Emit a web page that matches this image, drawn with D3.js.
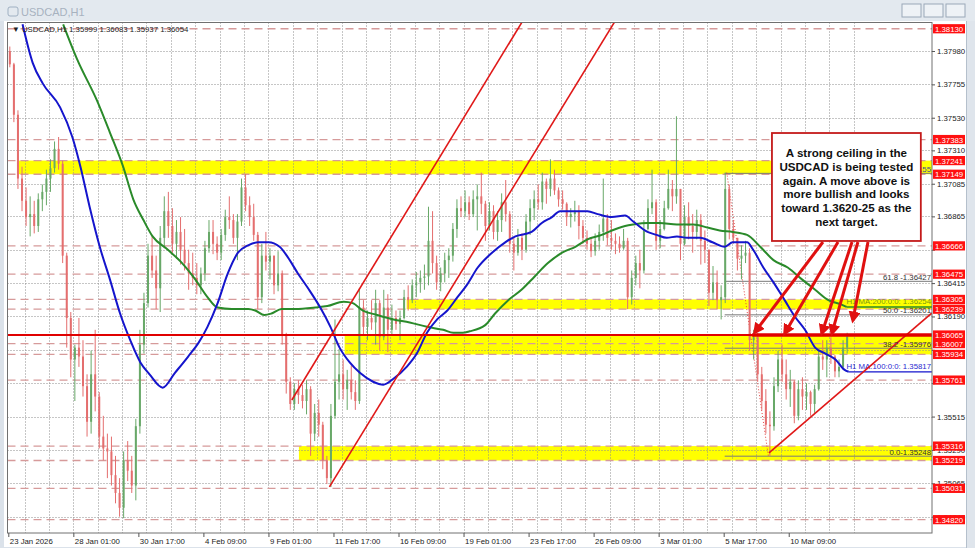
<!DOCTYPE html>
<html><head><meta charset="utf-8">
<script src="https://cdn.jsdelivr.net/npm/d3@7"></script>
<style>
body{margin:0;background:#dbe2ea;overflow:hidden}
svg{display:block}
text{font-family:"Liberation Sans",Arial,sans-serif}
</style></head>
<body><svg id="c" width="975" height="548"></svg>
<script>
// ---------- DATA ----------
const symbol = "USDCAD,H1";
const lastBar = [1.35999, 1.36083, 1.35937, 1.36054]; // O H L C of last hourly bar
const barsPerCandle = 4;
const firstOpen = 1.3798;
const candleHigh = [1.3801,1.3790,1.3758,1.3720,1.3706,1.3700,1.3697,1.3702,1.3708,1.3718,1.3725,1.3737,1.3740,1.3724,1.3662,1.3622,1.3600,1.3618,1.3603,1.3580,
1.3596,1.3610,1.3568,1.3552,1.3540,1.3538,1.3525,1.3510,1.3528,1.3535,1.3525,1.3550,1.3610,1.3635,1.3668,1.3673,1.3660,1.3680,1.3700,1.3703,
1.3692,1.3684,1.3686,1.3678,1.3664,1.3662,1.3655,1.3652,1.3670,1.3684,1.3684,1.3673,1.3678,1.3691,1.3700,1.3688,1.3688,1.3712,1.3715,1.3700,
1.3695,1.3676,1.3668,1.3676,1.3665,1.3660,1.3663,1.3650,1.3608,1.3578,1.3574,1.3576,1.3573,1.3576,1.3572,1.3560,1.3563,1.3548,1.3525,1.3560,
1.3617,1.3597,1.3590,1.3583,1.3586,1.3576,1.3638,1.3630,1.3623,1.3630,1.3637,1.3630,1.3637,1.3634,1.3627,1.3623,1.3623,1.3637,1.3640,1.3644,
1.3649,1.3650,1.3654,1.3693,1.3690,1.3660,1.3652,1.3662,1.3665,1.3682,1.3698,1.3700,1.3704,1.3700,1.3704,1.3708,1.3716,1.3697,1.3696,1.3694,
1.3690,1.3702,1.3711,1.3690,1.3672,1.3678,1.3675,1.3688,1.3698,1.3704,1.3708,1.3716,1.3712,1.3725,1.3718,1.3706,1.3704,1.3696,1.3692,1.3697,
1.3694,1.3684,1.3677,1.3672,1.3675,1.3681,1.3712,1.3688,1.3684,1.3675,1.3673,1.3678,1.3672,1.3650,1.3660,1.3664,1.3684,1.3698,1.3718,1.3698,
1.3684,1.3697,1.3718,1.3711,1.3754,1.3705,1.3694,1.3696,1.3688,1.3691,1.3688,1.3677,1.3664,1.3653,1.3650,1.3640,1.3716,1.3708,1.3684,1.3672,
1.3667,1.3670,1.3665,1.3610,1.3608,1.3585,1.3570,1.3555,1.3578,1.3596,1.3600,1.3590,1.3583,1.3576,1.3576,1.3578,1.3574,1.3569,1.3573,1.3596,
1.3603,1.3603,1.3605,1.3593,1.3590,1.3603,1.3608];
const candleLow = [1.3787,1.3750,1.3705,1.3690,1.3680,1.3673,1.3675,1.3676,1.3690,1.3694,1.3703,1.3716,1.3718,1.3655,1.3598,1.3578,1.3562,1.3585,1.3565,1.3538,
1.3540,1.3555,1.3530,1.3522,1.3510,1.3505,1.3493,1.3484,1.3483,1.3508,1.3500,1.3495,1.3540,1.3594,1.3625,1.3645,1.3624,1.3622,1.3665,1.3672,
1.3662,1.3658,1.3654,1.3650,1.3637,1.3640,1.3634,1.3634,1.3643,1.3662,1.3661,1.3657,1.3657,1.3670,1.3678,1.3668,1.3657,1.3680,1.3690,1.3680,
1.3670,1.3624,1.3628,1.3650,1.3644,1.3634,1.3636,1.3600,1.3567,1.3556,1.3556,1.3560,1.3557,1.3553,1.3525,1.3535,1.3538,1.3516,1.3506,1.3504,
1.3550,1.3563,1.3563,1.3556,1.3563,1.3556,1.3560,1.3607,1.3603,1.3610,1.3600,1.3596,1.3603,1.3595,1.3606,1.3610,1.3603,1.3617,1.3623,1.3628,
1.3632,1.3635,1.3637,1.3640,1.3648,1.3637,1.3636,1.3642,1.3645,1.3656,1.3672,1.3686,1.3686,1.3684,1.3686,1.3677,1.3688,1.3670,1.3677,1.3671,
1.3670,1.3676,1.3683,1.3662,1.3650,1.3660,1.3657,1.3662,1.3674,1.3684,1.3691,1.3691,1.3695,1.3700,1.3701,1.3693,1.3691,1.3680,1.3679,1.3683,
1.3671,1.3668,1.3664,1.3659,1.3660,1.3664,1.3670,1.3667,1.3664,1.3661,1.3662,1.3664,1.3624,1.3627,1.3640,1.3638,1.3648,1.3677,1.3688,1.3664,
1.3665,1.3677,1.3691,1.3690,1.3695,1.3657,1.3667,1.3671,1.3662,1.3671,1.3654,1.3655,1.3626,1.3630,1.3624,1.3617,1.3628,1.3671,1.3668,1.3650,
1.3644,1.3655,1.3596,1.3590,1.3575,1.3556,1.3540,1.3525,1.3542,1.3568,1.3575,1.3563,1.3558,1.3547,1.3549,1.3556,1.3556,1.3552,1.3554,1.3569,
1.3583,1.3578,1.3587,1.3578,1.3578,1.3583,1.3594];
const candleClose = [1.3789,1.3755,1.3712,1.3697,1.3686,1.3688,1.3680,1.3698,1.3703,1.3712,1.3719,1.3732,1.3722,1.3660,1.3618,1.3590,1.3598,1.3592,1.3572,1.3548,
1.3580,1.3565,1.3538,1.3530,1.3528,1.3512,1.3500,1.3490,1.3522,1.3515,1.3505,1.3545,1.3600,1.3628,1.3660,1.3650,1.3638,1.3672,1.3690,1.3680,
1.3668,1.3676,1.3664,1.3655,1.3648,1.3645,1.3640,1.3648,1.3665,1.3676,1.3668,1.3662,1.3674,1.3686,1.3684,1.3672,1.3683,1.3706,1.3694,1.3686,
1.3674,1.3632,1.3660,1.3656,1.3660,1.3640,1.3648,1.3606,1.3575,1.3560,1.3570,1.3566,1.3562,1.3570,1.3540,1.3554,1.3546,1.3522,1.3510,1.3552,
1.3575,1.3580,1.3570,1.3576,1.3568,1.3562,1.3625,1.3612,1.3618,1.3615,1.3628,1.3605,1.3625,1.3610,1.3618,1.3614,1.3618,1.3632,1.3630,1.3640,
1.3642,1.3645,1.3646,1.3670,1.3655,1.3642,1.3648,1.3657,1.3660,1.3678,1.3692,1.3690,1.3696,1.3688,1.3698,1.3700,1.3695,1.3680,1.3690,1.3676,
1.3684,1.3696,1.3688,1.3668,1.3662,1.3672,1.3664,1.3683,1.3692,1.3698,1.3696,1.3710,1.3705,1.3712,1.3704,1.3698,1.3695,1.3686,1.3688,1.3690,
1.3680,1.3672,1.3668,1.3663,1.3670,1.3676,1.3685,1.3672,1.3670,1.3668,1.3665,1.3670,1.3632,1.3645,1.3655,1.3650,1.3678,1.3692,1.3696,1.3670,
1.3678,1.3692,1.3705,1.3700,1.3705,1.3668,1.3686,1.3680,1.3676,1.3684,1.3670,1.3664,1.3635,1.3642,1.3630,1.3632,1.3705,1.3678,1.3672,1.3658,
1.3660,1.3662,1.3603,1.3605,1.3580,1.3562,1.3546,1.3545,1.3572,1.3590,1.3580,1.3570,1.3575,1.3552,1.3570,1.3565,1.3568,1.3560,1.3570,1.3592,
1.3590,1.3598,1.3592,1.3582,1.3585,1.3598,1.36054];

// moving averages (bar index, value)
const ma100Bar = [14,24,34,51,63,71,80,90,100,110,120,130,139,152,164,177,187,196,206,216,226,236,246,256,267,275,285,295,307,317,326,336,346,359,369,379,392,402,412,422,432,442,451,462,476,489,499,515,525,535,543,555,570,580,594,607,615,629,638,648,658,668,681,693,705,713,727,733,743,753,764,774,784,794,804,814,823,827];
const ma100Val = [1.3816,1.3790,1.3776,1.3760,1.3740,1.3720,1.3693,1.3666,1.3644,1.3621,1.3603,1.3588,1.3580,1.3571,1.3581,1.3592,1.3601,1.3612,1.3628,1.3648,1.3662,1.3667,1.3669,1.3669,1.3666,1.3659,1.3648,1.3638,1.3625,1.3612,1.3598,1.3588,1.3581,1.3575,1.3573,1.3577,1.3585,1.3594,1.3608,1.3617,1.3623,1.3632,1.3640,1.3652,1.3662,1.3669,1.3673,1.3676,1.3682,1.3686,1.3690,1.3690,1.3690,1.3688,1.3686,1.3687,1.3683,1.3676,1.3674,1.3672,1.3673,1.3672,1.3672,1.3669,1.3666,1.3669,1.3669,1.3664,1.3652,1.3642,1.3630,1.3619,1.3610,1.3598,1.3594,1.3590,1.3583,1.35817];
const ma200Bar = [54,68,87,100,113,123,133,142,157,171,184,196,206,220,236,243,252,259,269,282,302,314,330,339,349,363,379,395,412,428,438,447,454,469,479,492,505,518,531,545,558,570,584,594,607,615,629,641,658,674,688,700,713,727,740,753,767,781,794,807,820,825];
const ma200Val = [1.3816,1.3792,1.3765,1.3743,1.3720,1.3698,1.3684,1.3673,1.3664,1.3655,1.3644,1.3632,1.3625,1.3624,1.3624,1.3623,1.3620,1.3621,1.3624,1.3624,1.3625,1.3626,1.3629,1.3628,1.3623,1.3620,1.3617,1.3615,1.3612,1.3610,1.3608,1.3608,1.3609,1.3613,1.3621,1.3630,1.3637,1.3646,1.3655,1.3662,1.3666,1.3671,1.3674,1.3677,1.3680,1.3681,1.3682,1.3682,1.3681,1.3681,1.3679,1.3677,1.3676,1.3674,1.3666,1.3657,1.3652,1.3644,1.3637,1.3630,1.3627,1.36254];
const ma100Label = "H1 MA:100:0:0: 1.35817";
const ma200Label = "H1 MA:200:0:0: 1.36254";

// axes
const yTicks = [1.37980,1.37755,1.37530,1.37310,1.37085,1.36865,1.36640,1.36415,1.36190,1.35965,1.35740,1.35515,1.35290,1.35065,1.34840];
const yTicksHidden = [1.36640,1.35965,1.35740]; // fully covered by price labels in the picture
const levelLines = [1.38130,1.37383,1.37241,1.37149,1.36666,1.36475,1.36305,1.36239,1.36065,1.36007,1.35934,1.35761,1.35316,1.35219,1.35031,1.34820];
const timeLabels = ["23 Jan 2026","28 Jan 01:00","30 Jan 17:00","4 Feb 09:00","9 Feb 01:00","11 Feb 17:00","16 Feb 09:00","19 Feb 01:00","23 Feb 17:00","26 Feb 09:00","3 Mar 01:00","5 Mar 17:00","10 Mar 09:00"];
const timeLabelBars = [0,64,128,192,256,320,384,448,512,576,640,704,768];
const gridFirstBar = 16, gridStepBars = 24, gridLastBar = 832;

// drawn objects
const zoneTop = [1.37241,1.36305,1.36065,1.35316];
const zoneBottom = [1.37149,1.36239,1.35934,1.35219];
const zoneFromBar = [10,392,331,286];
const ceilingLevel = 1.36065;
const ceilingThickFromBar = 732;
const trendFrom = [[279,1.35627],[316,1.35041],[748.6,1.3527]];
const trendThrough = [[506,1.3818],[597,1.3818],[909,1.36214]];
const fibLevels = ["100.0","61.8 ","50.0 ","38.2 ","0.0"];
const fibValues = [1.37155,1.36427,1.36201,1.35976,1.35248];
const fibFromBar = 705;
const fibDiag = [[707,1.3716],[748,1.35248]];
const arrowFrom = [[801.7,1.36692],[816.5,1.36692],[830.3,1.36692],[836.1,1.36692],[846,1.36692]];
const arrowTo = [[734.8,1.36085],[764.3,1.36079],[800.7,1.36079],[810.6,1.36079],[831.2,1.36166]];
const noteBox = {fromBar:751.5, toBar:898, top:1.37427, bottom:1.36699};
const noteLines = ["A strong ceiling in the","USDCAD is being tested","again. A move above is","more bullish and looks","toward 1.3620-25 as the","next target."];

// ---------- DRAWING ----------
const svg = d3.select("#c");
const P = {l:7.5, r:932, t:22.5, b:533};
const x = d3.scaleLinear().domain([0,909]).range([8.3,932]);
const y = d3.scaleLinear().domain([1.3473,1.381755]).range([533,22]);
const xEnd = 909;

// window chrome
svg.append("rect").attr("width",975).attr("height",548).attr("fill","#dbe2ea");
svg.append("rect").attr("x",0).attr("y",0).attr("width",975).attr("height",21).attr("fill","#e3e9ef");
svg.append("rect").attr("x",8).attr("y",7).attr("width",10).attr("height",9).attr("fill","none").attr("stroke","#9fb0c2").attr("rx",2);
svg.append("text").attr("x",21).attr("y",16).attr("font-size",11).attr("fill","#a7b2bf").text(symbol);
[902,924,946].forEach(bx=>{
  svg.append("rect").attr("x",bx).attr("y",4).attr("width",19).attr("height",13).attr("fill","#eef2f6").attr("stroke","#9aa8b8");
});
svg.append("rect").attr("x",4).attr("y",21).attr("width",962).attr("height",526).attr("fill","#ffffff");
svg.append("rect").attr("x",966).attr("y",21).attr("width",9).attr("height",527).attr("fill","#dfe5ec");
svg.append("line").attr("x1",966.5).attr("x2",966.5).attr("y1",21).attr("y2",548).attr("stroke","#b5c0cc");

const defs = svg.append("defs");
defs.append("clipPath").attr("id","pc").append("rect")
  .attr("x",P.l).attr("y",P.t).attr("width",P.r-P.l).attr("height",P.b-P.t);
const g = svg.append("g").attr("clip-path","url(#pc)");

// yellow zones
g.selectAll("rect.zone").data(zoneTop).join("rect")
  .attr("x",(d,i)=>x(zoneFromBar[i])).attr("width",(d,i)=>x(xEnd)-x(zoneFromBar[i]))
  .attr("y",d=>y(d)).attr("height",(d,i)=>y(zoneBottom[i])-y(d)).attr("fill","#ffff00");

// grid
g.selectAll("line.vg").data(d3.range(gridFirstBar,gridLastBar+1,gridStepBars)).join("line")
  .attr("x1",d=>Math.round(x(d))+0.5).attr("x2",d=>Math.round(x(d))+0.5).attr("y1",P.t).attr("y2",P.b)
  .attr("stroke","#8c8c8c").attr("stroke-dasharray","1,2");
g.selectAll("line.hg").data(yTicks).join("line")
  .attr("x1",P.l).attr("x2",P.r).attr("y1",d=>Math.round(y(d))+0.5).attr("y2",d=>Math.round(y(d))+0.5)
  .attr("stroke","#8c8c8c").attr("stroke-dasharray","1,2");

// dashed level lines
g.selectAll("line.lv").data(levelLines).join("line")
  .attr("x1",P.l).attr("x2",P.r).attr("y1",d=>y(d)).attr("y2",d=>y(d))
  .attr("stroke","#d69a9a").attr("stroke-width",1.3).attr("stroke-dasharray","8,5");

// fib lines
g.selectAll("line.fib").data(fibValues).join("line")
  .attr("x1",x(fibFromBar)).attr("x2",x(xEnd)).attr("y1",d=>y(d)).attr("y2",d=>y(d))
  .attr("stroke","#7a7a7a").attr("stroke-width",1);
g.append("line").attr("x1",x(fibDiag[0][0])).attr("y1",y(fibDiag[0][1])).attr("x2",x(fibDiag[1][0])).attr("y2",y(fibDiag[1][1]))
  .attr("stroke","#e04040").attr("stroke-dasharray","1,2");

// candles
const candles = candleClose.map((c,k)=>{
  const o = k===0 ? firstOpen : candleClose[k-1];
  return {k,o,c,h:Math.max(candleHigh[k],o,c),l:Math.min(candleLow[k],o,c)};
});
const cx = d=>x(d.k*barsPerCandle+1.5);
const col = d=> d.c>=d.o ? "#68a868" : "#e46e6e";
g.selectAll("line.wick").data(candles).join("line")
  .attr("x1",cx).attr("x2",cx).attr("y1",d=>y(d.h)).attr("y2",d=>y(d.l))
  .attr("stroke",col).attr("stroke-width",1);
g.selectAll("rect.body").data(candles).join("rect")
  .attr("x",d=>cx(d)-1).attr("width",2)
  .attr("y",d=>y(Math.max(d.o,d.c))).attr("height",d=>Math.max(1,Math.abs(y(d.o)-y(d.c))))
  .attr("fill",col);

// moving averages
const maLine = d3.line().x(d=>x(d[0])).y(d=>y(d[1])).curve(d3.curveMonotoneX);
g.append("path").attr("d",maLine(ma200Bar.map((b,i)=>[b,ma200Val[i]]))).attr("fill","none").attr("stroke","#2a8a2a").attr("stroke-width",2);
g.append("path").attr("d",maLine(ma100Bar.map((b,i)=>[b,ma100Val[i]]))).attr("fill","none").attr("stroke","#1515cc").attr("stroke-width",2);
const ma200Last = ma200Val[ma200Val.length-1], ma100Last = ma100Val[ma100Val.length-1];
g.append("line").attr("x1",x(ma200Bar[ma200Bar.length-1])).attr("x2",x(xEnd)).attr("y1",y(ma200Last)).attr("y2",y(ma200Last)).attr("stroke","#2a8a2a").attr("stroke-width",1.5);
g.append("line").attr("x1",x(ma100Bar[ma100Bar.length-1])).attr("x2",x(xEnd)).attr("y1",y(ma100Last)).attr("y2",y(ma100Last)).attr("stroke","#1515cc").attr("stroke-width",1.2);
g.append("text").attr("x",x(xEnd)-1).attr("y",y(ma200Last)-2.5).attr("text-anchor","end").attr("font-size",7.8).attr("fill","#7a9a10").text(ma200Label);
g.append("text").attr("x",x(xEnd)-1).attr("y",y(ma100Last)-2.5).attr("text-anchor","end").attr("font-size",7.8).attr("fill","#2a2ad0").text(ma100Label);

// trend lines (rays)
trendFrom.forEach((p,i)=>{
  const q = trendThrough[i];
  const s = (q[1]-p[1])/(q[0]-p[0]);
  const endVal = p[1]+s*(xEnd-p[0]);
  g.append("line").attr("x1",x(p[0])).attr("y1",y(p[1])).attr("x2",x(xEnd)).attr("y2",y(endVal))
    .attr("stroke","#e01818").attr("stroke-width",1.6);
});

// ceiling
g.append("line").attr("x1",P.l).attr("x2",P.r).attr("y1",y(ceilingLevel)).attr("y2",y(ceilingLevel)).attr("stroke","#e00000").attr("stroke-width",2);
g.append("line").attr("x1",x(ceilingThickFromBar)).attr("x2",P.r).attr("y1",y(ceilingLevel)).attr("y2",y(ceilingLevel)).attr("stroke","#e00000").attr("stroke-width",3.5);

// fib labels (the top one is mostly hidden behind the note box)
const bx0 = x(noteBox.fromBar), bx1 = x(noteBox.toBar), by0 = y(noteBox.top), by1 = y(noteBox.bottom);
defs.append("clipPath").attr("id","fibclip").append("rect")
  .attr("x",bx1).attr("y",P.t).attr("width",P.r-bx1).attr("height",P.b-P.t);
g.selectAll("text.fibl").data(fibValues).join("text")
  .attr("clip-path",(d,i)=> i===0 ? "url(#fibclip)" : null)
  .attr("x",x(xEnd)-1).attr("y",d=>y(d)-1.5).attr("text-anchor","end").attr("font-size",7.8)
  .attr("fill",(d,i)=> i===0 ? "#3a4a9a" : "#333")
  .text((d,i)=>fibLevels[i]+"-"+d.toFixed(5));

// arrows
defs.append("marker").attr("id","ah").attr("viewBox","0 0 10 10").attr("refX",7).attr("refY",5)
  .attr("markerWidth",4).attr("markerHeight",4).attr("orient","auto")
  .append("path").attr("d","M0,0L10,5L0,10z").attr("fill","#e01010");
g.selectAll("line.arrow").data(arrowFrom).join("line")
  .attr("x1",d=>x(d[0])).attr("y1",d=>y(d[1]))
  .attr("x2",(d,i)=>x(arrowTo[i][0])).attr("y2",(d,i)=>y(arrowTo[i][1]))
  .attr("stroke","#e01010").attr("stroke-width",3).attr("marker-end","url(#ah)");

// note box
g.append("rect").attr("x",bx0).attr("y",by0).attr("width",bx1-bx0).attr("height",by1-by0)
  .attr("fill","#ffffff").attr("stroke","#c41a1a").attr("stroke-width",1.8);
g.selectAll("text.note").data(noteLines).join("text")
  .attr("x",(bx0+bx1)/2).attr("y",(d,i)=>by0+24+i*13.8).attr("text-anchor","middle")
  .attr("font-size",11.6).attr("font-weight","bold").attr("fill","#111").text(d=>d);

// header
g.append("text").attr("x",12).attr("y",32).attr("font-size",7.8).attr("fill","#222")
  .text("\u25BC " + symbol + "  " + lastBar.map(v=>v.toFixed(5)).join(" "));

// frame
svg.append("rect").attr("x",P.l).attr("y",P.t).attr("width",P.r-P.l).attr("height",P.b-P.t)
  .attr("fill","none").attr("stroke","#707070").attr("stroke-width",1);

// right axis
const fmt = d3.format(".5f");
const ya = svg.append("g").attr("transform",`translate(${P.r},0)`)
  .call(d3.axisRight(y).tickValues(yTicks).tickFormat(d=> yTicksHidden.includes(d) ? "" : fmt(d)).tickSize(3).tickPadding(2));
ya.select(".domain").remove();
ya.selectAll("text").attr("font-size",7.8).attr("fill","#222").attr("font-family","Liberation Sans, Arial, sans-serif");
ya.selectAll("line").attr("stroke","#555");

const lv = svg.append("g");
lv.selectAll("rect").data(levelLines).join("rect")
  .attr("x",P.r+1).attr("y",d=>y(d)-4.6).attr("width",32).attr("height",9.2).attr("fill","#ff1010");
lv.selectAll("text").data(levelLines).join("text")
  .attr("x",P.r+3).attr("y",d=>y(d)+3).attr("font-size",7.8).attr("fill","#fff").text(d=>fmt(d));

// bottom axis
const xa = svg.append("g").attr("transform",`translate(0,${P.b})`)
  .call(d3.axisBottom(x).tickValues(timeLabelBars).tickSize(4).tickFormat((d,i)=>timeLabels[i]));
xa.select(".domain").remove();
xa.selectAll("line").attr("stroke","#555");
xa.selectAll("text").attr("text-anchor","start").attr("x",1).attr("dy","0.55em")
  .attr("font-size",7.8).attr("fill","#222").attr("font-family","Liberation Sans, Arial, sans-serif");
</script></body></html>
